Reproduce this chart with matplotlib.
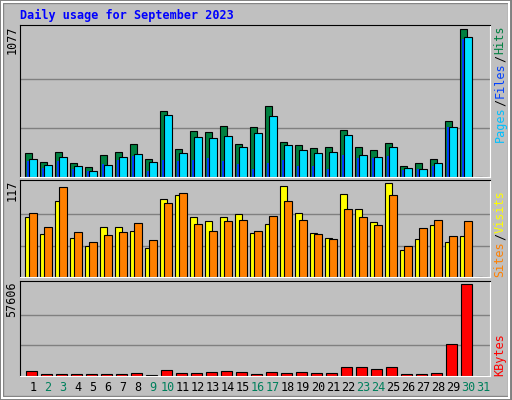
import numpy as np
import matplotlib
matplotlib.use('Agg')
import matplotlib.pyplot as plt
from matplotlib.patches import Rectangle

days = list(range(1, 32))
hits = [178, 112, 185, 105, 76, 163, 185, 244, 134, 485, 207, 339, 331, 375, 244,
        368, 521, 258, 236, 214, 222, 346, 222, 200, 251, 83, 105, 134, 412, 1077, 0]
files = [134, 90, 149, 83, 46, 90, 149, 171, 112, 456, 178, 295, 288, 302, 222,
         324, 448, 236, 200, 178, 185, 310, 163, 149, 222, 68, 61, 105, 368, 1019, 0]
pages = [119, 68, 119, 61, 46, 97, 122, 156, 46, 127, 119, 127, 141, 119, 97,
         61, 105, 127, 83, 83, 61, 163, 141, 141, 156, 54, 61, 83, 368, 1004, 0]
sites = [75, 53, 95, 48, 39, 62, 62, 57, 36, 97, 102, 75, 70, 75, 78,
         55, 66, 113, 80, 55, 48, 103, 84, 68, 117, 33, 47, 65, 43, 51, 0]
visits = [80, 62, 112, 56, 43, 52, 56, 67, 46, 92, 104, 66, 57, 70, 71,
          57, 76, 95, 71, 53, 47, 85, 74, 64, 102, 38, 61, 71, 51, 69, 0]
kbytes = [3364, 1470, 1470, 1470, 1470, 1470, 1470, 2100, 840, 3990, 2100, 2100,
          2730, 3364, 2730, 1470, 2730, 2100, 2730, 2100, 2100, 5890, 5890, 4625,
          5890, 1470, 1470, 2100, 19760, 57606, 0]
weekend = [2, 3, 9, 10, 16, 17, 23, 24, 30, 31]

W, H = 512, 400
fig = plt.figure(figsize=(W / 100, H / 100), dpi=100)
fig.patch.set_facecolor('#c0c0c0')
FONT = 'DejaVu Sans Mono'

# 3d frame
fig.add_artist(Rectangle((0, 0), 1, 1, transform=fig.transFigure, fill=False,
                         edgecolor='#808080', linewidth=6))
fig.add_artist(Rectangle((0.004, 0.006), 0.99, 0.99, transform=fig.transFigure,
                         fill=False, edgecolor='white', linewidth=1.5))


def panel(top, bottom):
    ax = fig.add_axes([20 / W, 1 - bottom / H, 470 / W, (bottom - top) / H])
    ax.set_facecolor('#c0c0c0')
    ax.set_xlim(0.367, 31.7)
    ax.set_xticks([])
    ax.set_yticks([])
    for s in ax.spines.values():
        s.set_color('white')
    ax.spines['left'].set_color('black')
    ax.spines['top'].set_color('black')
    return ax


x = np.array(days)
kw = dict(align='edge', edgecolor='black', linewidth=0.8)

ax1 = panel(25, 177)
ax1.set_ylim(0, 1077 * 1.03)
for g in (1077 / 3, 2 * 1077 / 3):
    ax1.axhline(g, color='#808080', linewidth=1, zorder=0)
ax1.bar(x - 0.3, hits, width=0.5, color='#008040', **kw)
ax1.bar(x - 0.17, pages, width=0.13, color='#0040ff', align='edge', linewidth=0)
ax1.bar(x - 0.03, files, width=0.53, color='#00e0ff', **kw)

ax2 = panel(180, 277)
ax2.set_ylim(0, 117 * 1.03)
for g in (117 / 3, 2 * 117 / 3):
    ax2.axhline(g, color='#808080', linewidth=1, zorder=0)
ax2.bar(x - 0.3, sites, width=0.5, color='#ffff00', **kw)
ax2.bar(x - 0.03, visits, width=0.53, color='#ff8000', **kw)

ax3 = panel(281, 376)
ax3.set_ylim(0, 57606 * 1.03)
for g in (57606 / 3, 2 * 57606 / 3):
    ax3.axhline(g, color='#808080', linewidth=1, zorder=0)
ax3.bar(x - 0.23, kbytes, width=0.73, color='#ff0000', **kw)

for d in days:
    ax3.text(d + 0.23, -0.12, str(d), transform=ax3.get_xaxis_transform(),
             ha='center', va='center', fontsize=8.5, family=FONT,
             color='#00805c' if d in weekend else 'black')

fig.text(20 / W, 1 - 15 / H, 'Daily usage for September 2023', color='#0000ff',
         fontsize=8.5, fontweight='bold', family=FONT, va='center')

for label, ytop in (('1077', 25), ('117', 180), ('57606', 281)):
    fig.text(12 / W, 1 - ytop / H, label, rotation=90, ha='center', va='top',
             fontsize=8.5, family=FONT)


def side_label(parts, ybottom):
    y = ybottom
    for txt, col in parts:
        t = fig.text(500 / W, 1 - y / H, txt, rotation=90, ha='center', va='bottom',
                     fontsize=8.5, family=FONT, color=col)
        y -= 7.3 * len(txt)


side_label([('Pages', '#00c0ff'), ('/', '#000000'), ('Files', '#0040ff'),
            ('/', '#000000'), ('Hits', '#008040')], 142)
side_label([('Sites', '#ff8000'), ('/', '#000000'), ('Visits', '#ffff00')], 277)
side_label([('KBytes', '#ff0000')], 376)

fig.savefig('out.png', dpi=100, facecolor=fig.get_facecolor())
